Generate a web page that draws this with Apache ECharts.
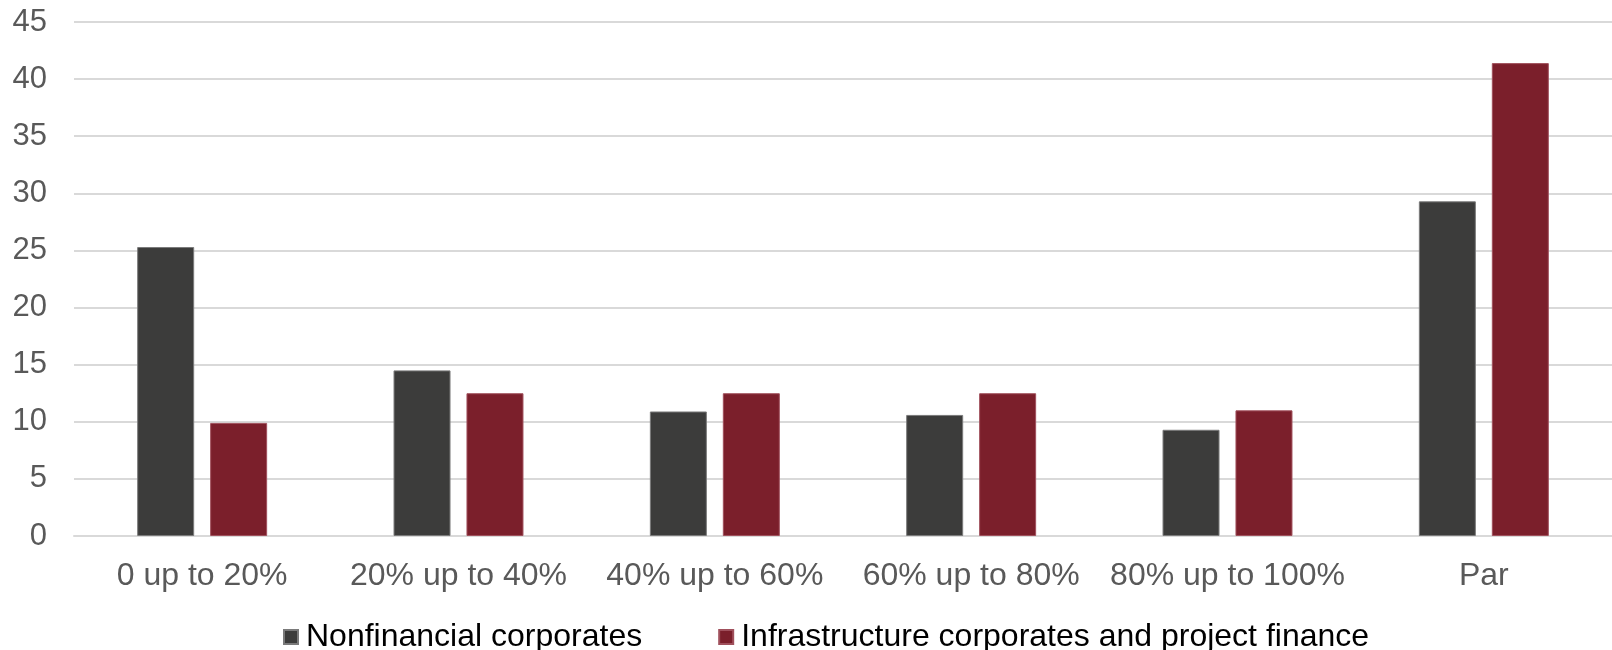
<!DOCTYPE html>
<html>
<head>
<meta charset="utf-8">
<script src="https://cdn.jsdelivr.net/npm/echarts@6/dist/echarts.min.js"></script>
<style>
  html, body { margin: 0; padding: 0; background: #ffffff; }
  #chart { width: 1612px; height: 650px; }
</style>
</head>
<body>
<div id="chart"></div>
<script>
// Share of defaults by recovery band
const categories = ['0 up to 20%', '20% up to 40%', '40% up to 60%', '60% up to 80%', '80% up to 100%', 'Par'];
const nonfinancial = [25.3, 14.5, 10.9, 10.6, 9.3, 29.3];
const infrastructure = [9.9, 12.5, 12.5, 12.5, 11.0, 41.4];
const seriesNames = ['Nonfinancial corporates', 'Infrastructure corporates and project finance'];

const FONT = '"Liberation Sans", Arial, Helvetica, sans-serif';

const chart = echarts.init(document.getElementById('chart'), null, { renderer: 'canvas' });

chart.setOption({
  animation: false,
  backgroundColor: '#ffffff',
  grid: { left: 74, right: 0, top: 22, bottom: 114, containLabel: false },
  legend: {
    left: 278,
    top: 616,
    itemWidth: 14,
    itemHeight: 14,
    itemGap: 76,
    icon: 'rect',
    textStyle: { color: '#000000', fontSize: 32, fontFamily: FONT, padding: [0, 0, 0, 3] },
    data: seriesNames
  },
  xAxis: {
    type: 'category',
    data: categories,
    axisLine: { show: true, lineStyle: { color: '#d9d9d9', width: 2 } },
    axisTick: { show: false },
    axisLabel: { color: '#595959', fontSize: 32, fontFamily: FONT, margin: 24, interval: 0 }
  },
  yAxis: {
    type: 'value',
    min: 0,
    max: 45,
    interval: 5,
    axisLine: { show: false },
    axisTick: { show: false },
    splitLine: { lineStyle: { color: '#d9d9d9', width: 2 } },
    axisLabel: { color: '#595959', fontSize: 31, fontFamily: FONT, margin: 27 }
  },
  series: [
    {
      name: seriesNames[0],
      type: 'bar',
      data: nonfinancial,
      barWidth: 57,
      barGap: '28%',
      itemStyle: { color: '#3c3c3b', borderColor: '#7a7a7a', borderWidth: 1 }
    },
    {
      name: seriesNames[1],
      type: 'bar',
      data: infrastructure,
      barWidth: 57,
      itemStyle: { color: '#7b1f2b', borderColor: '#a0505c', borderWidth: 1 }
    }
  ]
});
</script>
</body>
</html>
